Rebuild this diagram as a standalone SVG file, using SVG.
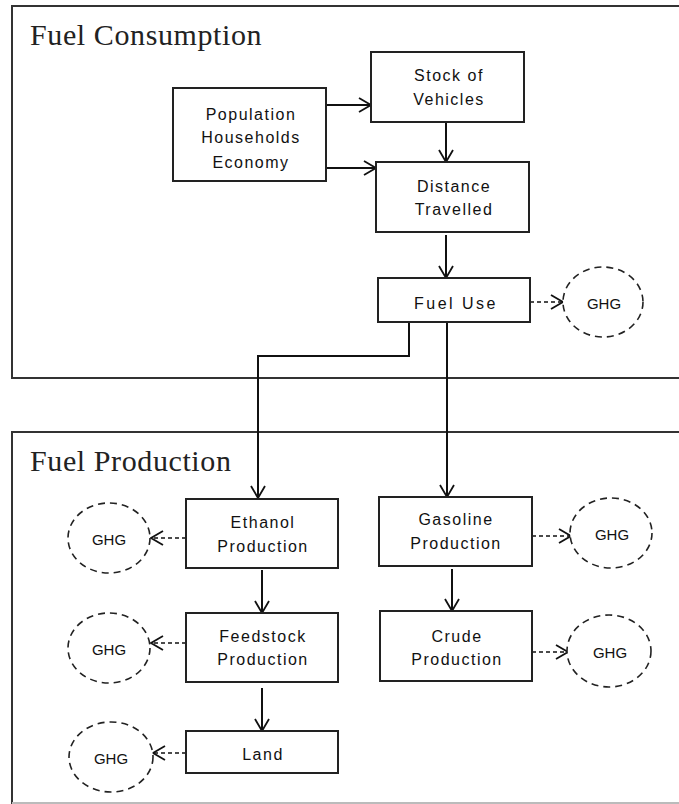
<svg xmlns="http://www.w3.org/2000/svg" width="679" height="804" viewBox="0 0 679 804">
<defs>
<style>
.frame{fill:none;stroke:#333;stroke-width:2}
.box{fill:#fff;stroke:#222;stroke-width:2}
.ghg{fill:#fff;stroke:#222;stroke-width:1.6;stroke-dasharray:7 5}
.title{font-family:"Liberation Serif","Times New Roman",serif;font-size:30px;fill:#222;letter-spacing:0.6px}
.lbl{font-family:"Liberation Sans",Arial,sans-serif;font-size:16px;fill:#111;text-anchor:middle;letter-spacing:1.5px}
.glbl{font-family:"Liberation Sans",Arial,sans-serif;font-size:15px;fill:#111;text-anchor:middle}
.c{fill:none;stroke:#111;stroke-width:2}
.d{fill:none;stroke:#111;stroke-width:1.6;stroke-dasharray:4 3}
</style>
<marker id="ah" markerUnits="userSpaceOnUse" viewBox="-14 -9 16 18" refX="0" refY="0" markerWidth="16" markerHeight="18" orient="auto" overflow="visible">
<path d="M-12,-7 L0,0 L-12,7" fill="none" stroke="#111" stroke-width="1.8"/>
</marker>
</defs>

<g id="fuel-consumption">
<rect class="frame" x="12" y="6" width="700" height="372"/>
<text class="title" x="30" y="45">Fuel Consumption</text>
</g>
<g id="fuel-production">
<rect x="12" y="432" width="700" height="371" fill="none" stroke="#333" stroke-width="2"/>
<line x1="12" y1="803" x2="679" y2="803" stroke="#bbb" stroke-width="2"/>
<text class="title" x="30" y="471">Fuel Production</text>
</g>

<g id="connectors">
<line class="c" x1="326" y1="105" x2="371" y2="105" marker-end="url(#ah)"/>
<line class="c" x1="326" y1="168" x2="376" y2="168" marker-end="url(#ah)"/>
<line class="c" x1="446" y1="122" x2="446" y2="162" marker-end="url(#ah)"/>
<line class="c" x1="446" y1="235" x2="446" y2="278" marker-end="url(#ah)"/>
<line class="d" x1="530" y1="302" x2="563" y2="302" marker-end="url(#ah)"/>
<polyline class="c" points="409,322 409,356 258,356 258,498" marker-end="url(#ah)"/>
<line class="c" x1="447" y1="322" x2="447" y2="497" marker-end="url(#ah)"/>
<line class="d" x1="186" y1="538" x2="151" y2="538" marker-end="url(#ah)"/>
<line class="d" x1="532" y1="536" x2="571" y2="536" marker-end="url(#ah)"/>
<line class="c" x1="262" y1="570" x2="262" y2="613" marker-end="url(#ah)"/>
<line class="d" x1="186" y1="643" x2="151" y2="643" marker-end="url(#ah)"/>
<line class="c" x1="262" y1="688" x2="262" y2="731" marker-end="url(#ah)"/>
<line class="d" x1="186" y1="753" x2="153" y2="753" marker-end="url(#ah)"/>
<line class="c" x1="452" y1="569" x2="452" y2="611" marker-end="url(#ah)"/>
<line class="d" x1="532" y1="652" x2="568" y2="652" marker-end="url(#ah)"/>
</g>

<g id="population">
<rect class="box" x="173" y="88" width="153" height="93"/>
<text class="lbl" x="251" y="120">Population</text>
<text class="lbl" x="251" y="143">Households</text>
<text class="lbl" x="251" y="168">Economy</text>
</g>
<g id="stock">
<rect class="box" x="371" y="52" width="153" height="70"/>
<text class="lbl" x="449" y="81">Stock of</text>
<text class="lbl" x="449" y="105">Vehicles</text>
</g>
<g id="distance">
<rect class="box" x="376" y="162" width="153" height="70"/>
<text class="lbl" x="454" y="192">Distance</text>
<text class="lbl" x="454" y="215">Travelled</text>
</g>
<g id="fuel-use">
<rect class="box" x="378" y="278" width="152" height="44"/>
<text class="lbl" x="456" y="309" style="letter-spacing:2.5px">Fuel Use</text>
</g>
<g id="ghg-fuel-use">
<ellipse class="ghg" cx="603" cy="302" rx="40" ry="35"/>
<text class="glbl" x="604" y="309">GHG</text>
</g>
<g id="ethanol">
<rect class="box" x="186" y="499" width="152" height="69"/>
<text class="lbl" x="263" y="528">Ethanol</text>
<text class="lbl" x="263" y="552">Production</text>
</g>
<g id="ghg-ethanol">
<ellipse class="ghg" cx="109" cy="538" rx="41" ry="35"/>
<text class="glbl" x="109" y="545">GHG</text>
</g>
<g id="gasoline">
<rect class="box" x="379" y="497" width="153" height="69"/>
<text class="lbl" x="456" y="525">Gasoline</text>
<text class="lbl" x="456" y="549">Production</text>
</g>
<g id="ghg-gasoline">
<ellipse class="ghg" cx="611" cy="533" rx="41" ry="35"/>
<text class="glbl" x="612" y="540">GHG</text>
</g>
<g id="feedstock">
<rect class="box" x="186" y="613" width="152" height="69"/>
<text class="lbl" x="263" y="642">Feedstock</text>
<text class="lbl" x="263" y="665">Production</text>
</g>
<g id="ghg-feedstock">
<ellipse class="ghg" cx="109" cy="648" rx="41" ry="35"/>
<text class="glbl" x="109" y="655">GHG</text>
</g>
<g id="land">
<rect class="box" x="186" y="731" width="152" height="42"/>
<text class="lbl" x="263" y="760">Land</text>
</g>
<g id="ghg-land">
<ellipse class="ghg" cx="111" cy="757" rx="42" ry="35"/>
<text class="glbl" x="111" y="764">GHG</text>
</g>
<g id="crude">
<rect class="box" x="380" y="611" width="152" height="70"/>
<text class="lbl" x="457" y="642">Crude</text>
<text class="lbl" x="457" y="665">Production</text>
</g>
<g id="ghg-crude">
<ellipse class="ghg" cx="609" cy="651" rx="42" ry="36"/>
<text class="glbl" x="610" y="658">GHG</text>
</g>
</svg>
